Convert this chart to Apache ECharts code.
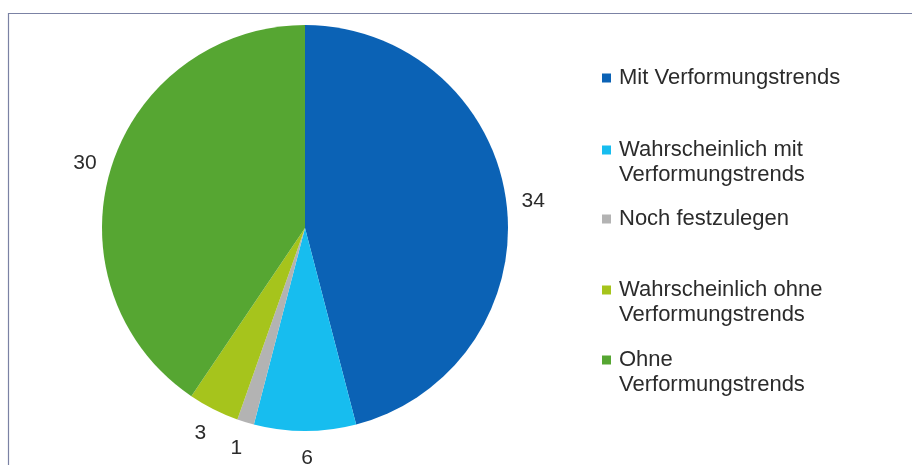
<!DOCTYPE html>
<html>
<head>
<meta charset="utf-8">
<script src="https://cdn.jsdelivr.net/npm/echarts@6/dist/echarts.min.js"></script>
<style>
    html, body {margin:0;padding:0;background:#ffffff;}
    #chart {width:912px;height:465px;}
</style>
</head>
<body>
<div id="chart"></div>
<script>
    // Kategorien und Werte
    var categories = ['Mit Verformungstrends', 'Wahrscheinlich mit\nVerformungstrends', 'Noch festzulegen',
        'Wahrscheinlich ohne\nVerformungstrends', 'Ohne\nVerformungstrends'];
    var values = [34, 6, 1, 3, 30];
    var colors = ['#0b62b5', '#17bdef', '#b3b3b3', '#a6c41c', '#56a632'];

    // Legendenposition (oben) je Eintrag
    var legendTops = [60.5, 107.5, 201.5, 247.5, 317.5];

    var chart = echarts.init(document.getElementById('chart'));

    var pieData = [];
    for (var i = 0; i < categories.length; i++) {
        pieData.push({name: categories[i], value: values[i], itemStyle: {color: colors[i]}});
    }

    var legends = [];
    for (var j = 0; j < categories.length; j++) {
        legends.push({
            orient: 'vertical',
            left: 597,
            top: legendTops[j],
            itemWidth: 9,
            itemHeight: 9,
            itemGap: 0,
            icon: 'rect',
            selectedMode: false,
            data: [categories[j]],
            // zweizeilige Einträge: Leerzeile davor, damit das Kästchen an der ersten Zeile steht
            formatter: function (name) {
                return name.indexOf('\n') >= 0 ? '\n' + name : name;
            },
            textStyle: {
                fontFamily: 'Liberation Sans, Arial, sans-serif',
                fontSize: 22,
                lineHeight: 25,
                color: '#2b2b2b',
                padding: [0, 0, 0, 3]
            }
        });
    }

    var option = {
        animation: false,
        backgroundColor: '#ffffff',
        graphic: [{
            type: 'rect',
            shape: {x: 8.5, y: 13.5, width: 940, height: 480},
            style: {fill: 'none', stroke: '#7b82a4', lineWidth: 1.2},
            silent: true
        }],
        legend: legends,
        series: [{
            type: 'pie',
            center: [305, 228],
            radius: 203,
            startAngle: 90,
            clockwise: true,
            avoidLabelOverlap: false,
            data: pieData,
            label: {
                show: true,
                position: 'outside',
                formatter: '{c}',
                distanceToLabelLine: 2,
                fontFamily: 'Liberation Sans, Arial, sans-serif',
                fontSize: 21,
                color: '#2b2b2b'
            },
            labelLine: {show: false, length: 25, length2: 0},
            labelLayout: {align: 'center', verticalAlign: 'middle', dy: 2},
            emphasis: {disabled: true}
        }]
    };
    chart.setOption(option);
</script>
</body>
</html>
